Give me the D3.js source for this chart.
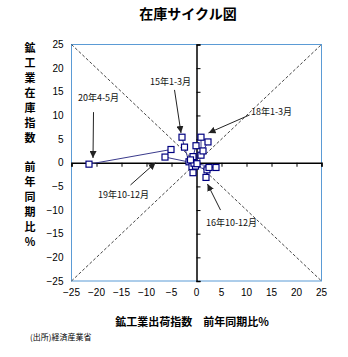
<!DOCTYPE html>
<html><head><meta charset="utf-8">
<script src="https://cdn.jsdelivr.net/npm/d3@7"></script>
<style>
html,body{margin:0;padding:0;background:#fff;}
svg{display:block;}
text{font-family:"Liberation Sans",Arial,"Noto Sans CJK JP",sans-serif;}
.jp{font-family:"Noto Sans CJK JP","Liberation Sans",sans-serif;}
</style>
</head><body>
<svg id="chart" width="348" height="357"></svg>
<script>
// ---- data ----
const periods = ["15Q1","15Q2","15Q3","15Q4","16Q1","16Q2","16Q3","16Q4","17Q1","17Q2","17Q3","17Q4",
                 "18Q1","18Q2","18Q3","18Q4","19Q1","19Q2","19Q3","19Q4","20Q1","20年4-5月"];
const shipments = [-2.9,-2.4,-1.5,-0.9,-0.7,-0.2,2.1,1.9,2.5,3.9,-0.5,0.9,
                   0.9,2.3,1.3,-0.1,-0.7,-1.2,0.1,-6.3,-5.1,-21.5];
const inventory = [5.4,3.3,0.2,-0.8,-2.1,-0.7,-1.5,-3.1,-1.0,-1.0,-0.1,1.6,
                   5.4,4.4,2.5,3.6,1.3,0.6,-0.2,1.2,2.8,-0.3];
const tickValues = [-25,-20,-15,-10,-5,0,5,10,15,20,25];
const annoLabels = ["15年1-3月","20年4-5月","18年1-3月","16年10-12月","19年10-12月"];
const annoTextX = [-5.2,-19.6,15,7,-14.6];
const annoTextY = [17.1,13.7,10.9,-12.7,-6.8];
const annoFromX = [-4.4,-20.6,10.6,4.8,-13.2];
const annoFromY = [15.4,10.7,10.1,-10,-4.7];
const annoToX = [-3.1,-20.7,2.4,2.2,-8.2];
const annoToY = [6.3,1.0,6.3,-4.5,0];
const titleText = "在庫サイクル図";
const xTitle = "鉱工業出荷指数　前年同期比%";
const yTitleTop = "鉱工業在庫指数";
const yTitleBottom = "前年同期比%";
const sourceText = "(出所)経済産業省";

// ---- layout ----
const svg = d3.select("#chart");
const L = 71.5, R = 321.5, T = 44.5, B = 281;
const x = d3.scaleLinear().domain([-25,25]).range([L,R]);
const y = d3.scaleLinear().domain([-25,25]).range([B,T]);

// title
svg.append("text").attr("class","jp").attr("x",188).attr("y",19)
  .attr("text-anchor","middle").attr("font-size",14).attr("font-weight","bold").text(titleText);

// defs arrow
svg.append("defs").append("marker").attr("id","ah").attr("viewBox","0 0 10 10")
  .attr("refX",10).attr("refY",5).attr("markerWidth",7).attr("markerHeight",7)
  .attr("markerUnits","userSpaceOnUse").attr("orient","auto")
  .append("path").attr("d","M0,0L10,5L0,10z").attr("fill","#222");

// plot border
svg.append("rect").attr("x",L).attr("y",T).attr("width",R-L).attr("height",B-T)
  .attr("fill","none").attr("stroke","#5b9bd5").attr("stroke-width",1);

// diagonals
const g = svg.append("g");
[[[-25,25],[25,-25]],[[-25,-25],[25,25]]].forEach(d=>{
  g.append("line").attr("x1",x(d[0][0])).attr("y1",y(d[0][1])).attr("x2",x(d[1][0])).attr("y2",y(d[1][1]))
   .attr("stroke","#444").attr("stroke-width",1).attr("stroke-dasharray","3,2");
});

// axes through zero
const xAxis = d3.axisBottom(x).tickValues(tickValues).tickSize(4).tickFormat("");
const xa = svg.append("g").attr("transform",`translate(0,${y(0)})`).call(xAxis);
xa.select(".domain").attr("stroke","#000").attr("stroke-width",1.5);
xa.selectAll(".tick line").attr("stroke","#000");
const yAxis = d3.axisRight(y).tickValues(tickValues).tickSize(4).tickFormat("");
const ya = svg.append("g").attr("transform",`translate(${x(0)},0)`).call(yAxis);
ya.select(".domain").attr("stroke","#000").attr("stroke-width",1.5);
ya.selectAll(".tick line").attr("stroke","#000");

// tick labels (outside)
const fmt = d3.format("");
svg.append("g").selectAll("text").data(tickValues).join("text")
  .attr("x",d=>x(d)).attr("y",296).attr("text-anchor","middle").attr("font-size",10)
  .text(d=>fmt(d));
svg.append("g").selectAll("text").data(tickValues).join("text")
  .attr("x",63.5).attr("y",d=>y(d)+3.5).attr("text-anchor","end").attr("font-size",10)
  .text(d=>fmt(d));

// data path
const pts = shipments.map((v,i)=>[v,inventory[i]]);
svg.append("path").datum(pts)
  .attr("d",d3.line().x(d=>x(d[0])).y(d=>y(d[1])))
  .attr("fill","none").attr("stroke","#3a3a8c").attr("stroke-width",1);
svg.append("g").selectAll("rect").data(pts).join("rect")
  .attr("x",d=>x(d[0])-3).attr("y",d=>y(d[1])-3).attr("width",6).attr("height",6)
  .attr("fill","#fff").attr("stroke","#000080").attr("stroke-width",1.2);

// annotations
annoLabels.forEach((lab,i)=>{
  svg.append("line").attr("x1",x(annoFromX[i])).attr("y1",y(annoFromY[i]))
    .attr("x2",x(annoToX[i])).attr("y2",y(annoToY[i]))
    .attr("stroke","#222").attr("stroke-width",1).attr("marker-end","url(#ah)");
  svg.append("text").attr("class","jp").attr("x",x(annoTextX[i])).attr("y",y(annoTextY[i])+3.5)
    .attr("text-anchor","middle").attr("font-size",9).attr("fill","#111").text(lab);
});

// y title (stacked vertical)
const yChars = Array.from(yTitleTop).concat([""]).concat(Array.from(yTitleBottom));
const yPos = [48,63,78,93,108,123,138,null,167,182,197,212,227,242];
svg.append("g").selectAll("text").data(yChars).join("text").attr("class","jp")
  .attr("x",30).attr("y",(d,i)=>yPos[i]===null?0:yPos[i]+4)
  .attr("text-anchor","middle").attr("font-size",11).attr("font-weight","bold")
  .text(d=>d);

// x title
svg.append("text").attr("class","jp").attr("x",192).attr("y",326)
  .attr("text-anchor","middle").attr("font-size",11).attr("font-weight","bold").text(xTitle);

// source
svg.append("text").attr("class","jp").attr("x",30).attr("y",340)
  .attr("font-size",8).text(sourceText);
</script>
</body></html>
